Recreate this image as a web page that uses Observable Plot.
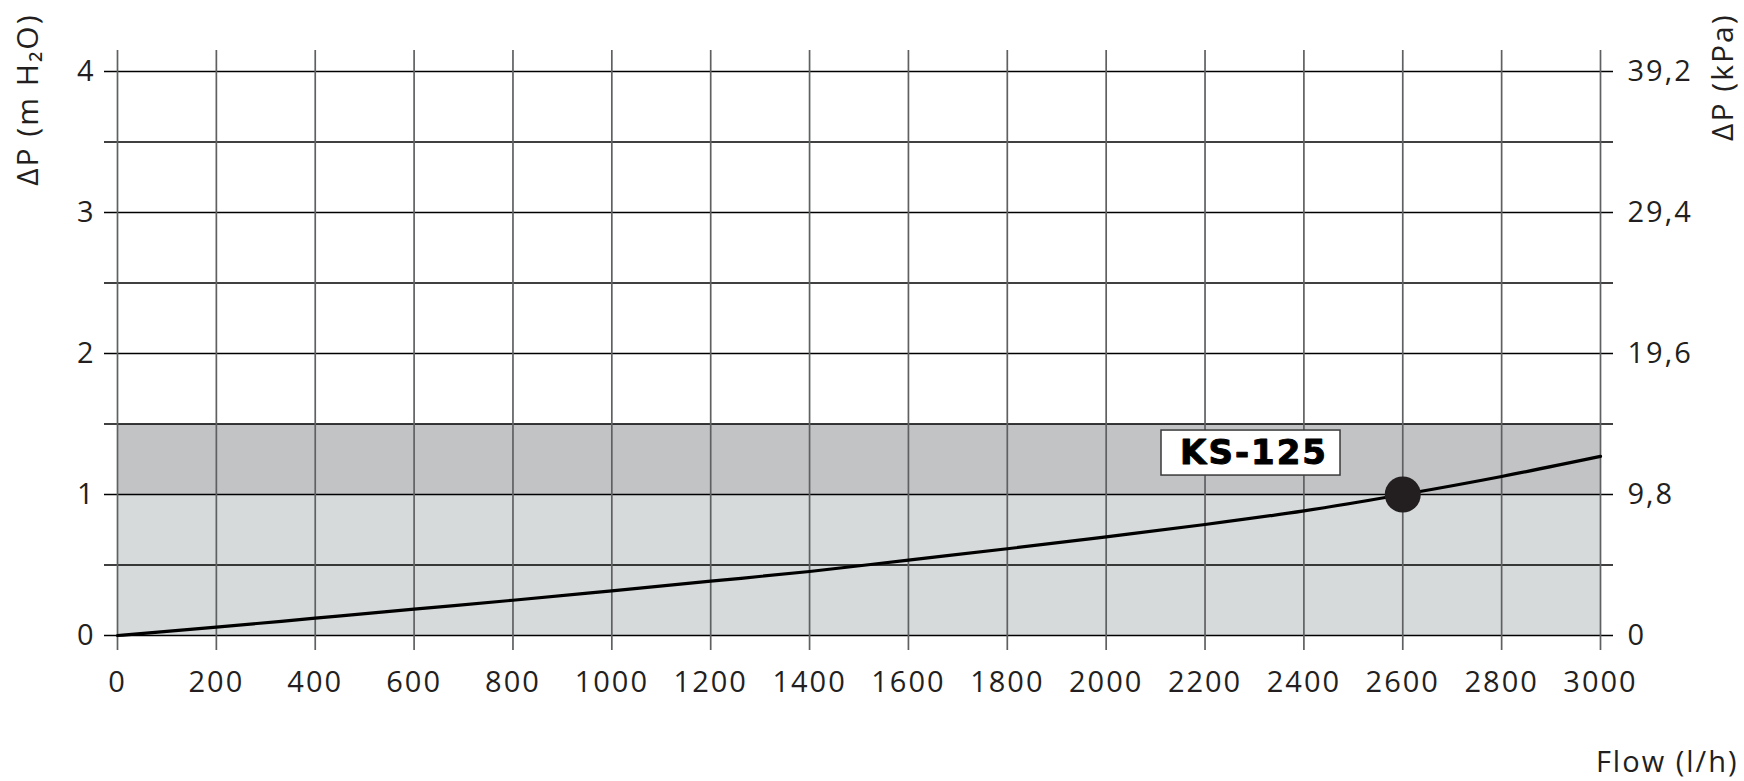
<!DOCTYPE html>
<html>
<head>
<meta charset="utf-8">
<script src="https://cdn.jsdelivr.net/npm/d3@7"></script>
<script src="https://cdn.jsdelivr.net/npm/@observablehq/plot@0.6"></script>
<style>
  html, body { margin: 0; padding: 0; background: #ffffff; }
  #chart { width: 1744px; height: 781px; }
</style>
</head>
<body>
<div id="chart"></div>
<script>
// Flow (l/h) vs pressure drop (m H2O) for KS-125
const flow   = [0, 200, 400, 600, 800, 1000, 1200, 1400, 1600, 1800, 2000, 2200, 2400, 2600, 2800, 3000];
const dpH2O  = [0, 0.059, 0.123, 0.187, 0.25, 0.317, 0.385, 0.454, 0.535, 0.615, 0.70, 0.787, 0.884, 1.0, 1.128, 1.27];

// tick values / labels
const xTicks      = [0, 200, 400, 600, 800, 1000, 1200, 1400, 1600, 1800, 2000, 2200, 2400, 2600, 2800, 3000];
const yTicks      = [0, 1, 2, 3, 4];
const yTickLabels = ["0", "1", "2", "3", "4"];
const kpaLabels   = ["0", "9,8", "19,6", "29,4", "39,2"];
const gridY       = [0, 0.5, 1, 1.5, 2, 2.5, 3, 3.5, 4];

// shaded bands (m H2O)
const bandFrom  = [0, 1];
const bandTo    = [1, 1.5];
const bandFill  = ["#d6dadb", "#c2c3c5"];

// operating point & label
const pointFlow = [2600];
const pointDp   = [1.0];
const labelText = ["KS-125"];
const labelFlow = [2293];
const labelDp   = [1.294];

const titleLeft  = "ΔP (m H₂O)";
const titleRight = "ΔP (kPa)";
const titleX     = "Flow (l/h)";

const curve = flow.map((f, i) => ({flow: f, dp: dpH2O[i]}));
const bands = bandFrom.map((b, i) => ({y1: b, y2: bandTo[i], x1: xTicks[0], x2: xTicks[xTicks.length - 1], fill: bandFill[i]}));
const point = pointFlow.map((f, i) => ({flow: f, dp: pointDp[i]}));
const label = labelText.map((t, i) => ({text: t, flow: labelFlow[i], dp: labelDp[i]}));

const ink = "#231f20";
const font = "'Open Sans', sans-serif";

const chart = Plot.plot({
  width: 1744,
  height: 781,
  marginLeft: 117,
  marginRight: 144,
  marginTop: 71,
  marginBottom: 146,
  style: {fontFamily: font, fontSize: "29px", color: ink, background: "#ffffff", overflow: "visible", letterSpacing: "2px"},
  x: {domain: [0, 3000]},
  y: {domain: [0, 4]},
  marks: [
    Plot.rect(bands, {x1: "x1", x2: "x2", y1: "y1", y2: "y2", fill: d => d.fill}),
    Plot.ruleY(gridY, {stroke: "#000000", strokeWidth: 1.3, insetLeft: -13, insetRight: -13}),
    Plot.ruleX(xTicks, {stroke: "#5f6062", strokeWidth: 1.7, insetTop: -21, insetBottom: -15}),
    Plot.line(curve, {x: "flow", y: "dp", stroke: "#000000", strokeWidth: 3.2, curve: "monotone-x"}),
    Plot.dot(point, {x: "flow", y: "dp", r: 18, fill: ink, stroke: "none"}),
    Plot.rect(label, {x1: "flow", x2: "flow", y1: "dp", y2: "dp",
      insetLeft: -89.5, insetRight: -89.5, insetTop: -22.5, insetBottom: -22.5,
      fill: "#ffffff", stroke: "#3a3a3a", strokeWidth: 1.5}),
    Plot.text(label, {x: "flow", y: "dp", text: "text", fontFamily: "'DejaVu Sans', sans-serif",
      fontWeight: "bold", fontSize: 34, fill: "#000000", stroke: "#000000", strokeWidth: 1,
      letterSpacing: "5px", dx: 3}),
    Plot.axisX(xTicks, {tickSize: 0, tickPadding: 36, label: null, tickFormat: d => String(d)}),
    Plot.axisY(yTicks, {anchor: "left", tickSize: 0, tickPadding: 22, label: null,
      tickFormat: d => yTickLabels[yTicks.indexOf(d)]}),
    Plot.axisY(yTicks, {anchor: "right", tickSize: 0, tickPadding: 27, label: null,
      tickFormat: d => kpaLabels[yTicks.indexOf(d)]}),
    Plot.text([titleLeft], {frameAnchor: "top-left", text: d => d, rotate: -90, textAnchor: "end",
      lineAnchor: "middle", dx: -89, dy: -58, fill: ink, fontSize: 30}),
    Plot.text([titleRight], {frameAnchor: "top-right", text: d => d, rotate: -90, textAnchor: "end",
      lineAnchor: "middle", dx: 123, dy: -58, fill: ink, fontSize: 30}),
    Plot.text([titleX], {frameAnchor: "bottom-right", text: d => d, textAnchor: "end",
      lineAnchor: "middle", dx: 138, dy: 127, fill: ink, fontSize: 29})
  ]
});
document.getElementById("chart").appendChild(chart);
</script>
</body>
</html>
